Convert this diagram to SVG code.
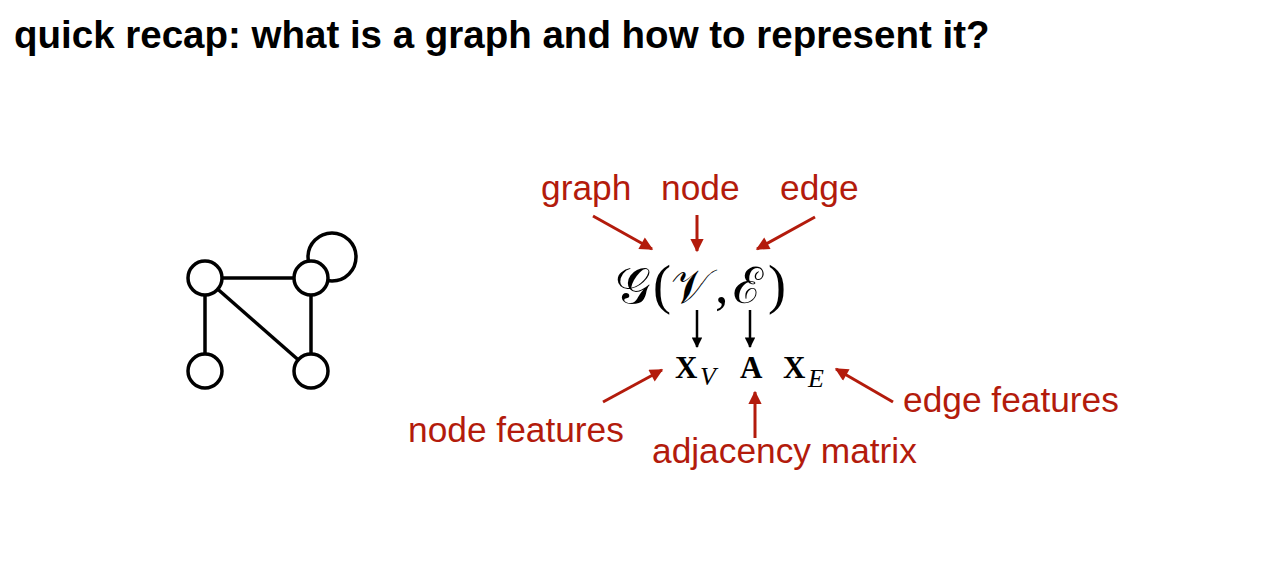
<svg xmlns="http://www.w3.org/2000/svg" width="1265" height="571" viewBox="0 0 1265 571">
<style>
.title{font-family:"Liberation Sans",Arial,sans-serif;font-weight:bold;font-size:38.5px;fill:#000}
.lbl{font-family:"Liberation Sans",Arial,sans-serif;font-size:35.3px;fill:#b31b0c}
.math{font-family:"Liberation Serif","DejaVu Serif",serif;fill:#000}
.node{fill:#fff;stroke:#000;stroke-width:3.5}
.edge{fill:none;stroke:#000;stroke-width:3.5}
.red{stroke:#b31b0c;stroke-width:3;fill:none}
.blk{stroke:#000;stroke-width:2.5;fill:none}
</style>
<defs>
<marker id="ah-red" viewBox="0 0 10 10" refX="9" refY="5" markerWidth="5.2" markerHeight="4.4" orient="auto" markerUnits="strokeWidth">
<path d="M0,0 L10,5 L0,10 z" fill="#b31b0c"/>
</marker>
<marker id="ah-blk" viewBox="0 0 10 10" refX="9" refY="5" markerWidth="5" markerHeight="4.2" orient="auto" markerUnits="strokeWidth">
<path d="M0,0 L10,5 L0,10 z" fill="#000"/>
</marker>
</defs>
<rect width="1265" height="571" fill="#fff"/>
<text class="title" x="14" y="48">quick recap: what is a graph and how to represent it?</text>

<g id="graph-edges">
<line class="edge" x1="205" y1="278" x2="311" y2="278"/>
<line class="edge" x1="205" y1="278" x2="205" y2="371"/>
<line class="edge" x1="311" y1="278" x2="311" y2="371"/>
<line class="edge" x1="205" y1="278" x2="311" y2="371"/>
<circle class="edge" cx="332" cy="257" r="24"/>
</g>
<g id="n1"><circle class="node" cx="205" cy="278" r="17"/></g>
<g id="n2"><circle class="node" cx="311" cy="278" r="17"/></g>
<g id="n3"><circle class="node" cx="205" cy="371" r="17"/></g>
<g id="n4"><circle class="node" cx="311" cy="371" r="17"/></g>

<g id="formula">
<text class="math" font-size="54" y="303"><tspan x="615" font-size="50">𝒢</tspan><tspan x="653">(</tspan><tspan x="671" font-size="48">𝒱</tspan><tspan x="715">,</tspan><tspan x="733" font-size="50">ℰ</tspan><tspan x="768">)</tspan></text>
</g>
<g id="features">
<text class="math" font-weight="bold" font-size="31" x="675" y="378">X</text>
<text class="math" font-style="italic" font-size="26" x="700" y="385">V</text>
<text class="math" font-weight="bold" font-size="31" x="740" y="378">A</text>
<text class="math" font-weight="bold" font-size="31" x="783" y="378">X</text>
<text class="math" font-style="italic" font-size="26" x="808" y="387">E</text>
</g>

<g id="labels">
<text class="lbl" x="541" y="200">graph</text>
<text class="lbl" x="661" y="200">node</text>
<text class="lbl" x="780" y="200">edge</text>
<text class="lbl" x="408" y="442">node features</text>
<text class="lbl" x="652" y="463">adjacency matrix</text>
<text class="lbl" x="903" y="412">edge features</text>
</g>

<g id="connectors">
<line class="red" x1="593" y1="216" x2="652" y2="249" marker-end="url(#ah-red)"/>
<line class="red" x1="697" y1="215" x2="697" y2="251" marker-end="url(#ah-red)"/>
<line class="red" x1="815" y1="217" x2="757" y2="249" marker-end="url(#ah-red)"/>
<line class="red" x1="603" y1="402" x2="662" y2="370" marker-end="url(#ah-red)"/>
<line class="red" x1="755" y1="438" x2="755" y2="392" marker-end="url(#ah-red)"/>
<line class="red" x1="893" y1="402" x2="836" y2="369" marker-end="url(#ah-red)"/>
<line class="blk" x1="697" y1="310" x2="697" y2="347" marker-end="url(#ah-blk)"/>
<line class="blk" x1="750" y1="310" x2="750" y2="347" marker-end="url(#ah-blk)"/>
</g>
</svg>
